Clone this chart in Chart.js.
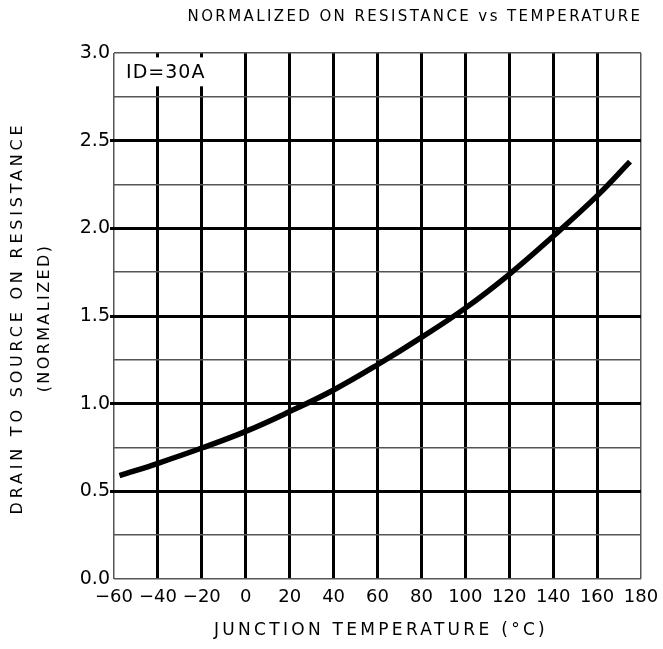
<!DOCTYPE html>
<html>
<head>
<meta charset="utf-8">
<script src="https://cdn.jsdelivr.net/npm/chart.js@4.4.1/dist/chart.umd.min.js"></script>
<style>
  html, body { margin: 0; padding: 0; background: #fff; }
  #wrap { width: 663px; height: 649px; }
</style>
</head>
<body>
<div id="wrap"><canvas id="chart"></canvas></div>
<script>
// junction temperature (°C) and normalized R_DS(on)
const temps = [-57.5, -40, -20, 0, 20, 40, 60, 80, 100, 120, 140, 160, 175];
const rdsNorm = [0.589, 0.66, 0.747, 0.842, 0.955, 1.078, 1.222, 1.378, 1.545, 1.738, 1.955, 2.185, 2.38];

const xTicks = [-60, -40, -20, 0, 20, 40, 60, 80, 100, 120, 140, 160, 180];
const yTicks = ['0.0', '0.5', '1.0', '1.5', '2.0', '2.5', '3.0'];

const chartTitle = 'NORMALIZED ON RESISTANCE vs TEMPERATURE';
const xTitle = 'JUNCTION TEMPERATURE (\u00B0C)';
const yTitle = ['DRAIN TO SOURCE ON RESISTANCE', '(NORMALIZED)'];
const noteText = 'ID=30A';

const FONT = '"DejaVu Sans", sans-serif';

const isMajor = (v) => Math.abs(v * 2 - Math.round(v * 2)) < 1e-6;

// titles and the Id note, drawn by hand so letter spacing can match
const textPlugin = {
    id: 'plainText',
    beforeDatasetsDraw(chart) {
        const { ctx, scales: { x, y } } = chart;
        // white box behind the note, covering the grid
        const l = x.getPixelForValue(-57.5), r = x.getPixelForValue(-15.5);
        const t = y.getPixelForValue(2.975), b = y.getPixelForValue(2.81);
        ctx.save();
        ctx.fillStyle = '#fff';
        ctx.fillRect(l, t, r - l, b - t);
        ctx.fillStyle = '#000';
        ctx.font = '19px ' + FONT;
        ctx.letterSpacing = '1px';
        ctx.textBaseline = 'middle';
        ctx.textAlign = 'left';
        ctx.fillText(noteText, x.getPixelForValue(-54.5), (t + b) / 2 + 1);
        ctx.restore();
    },
    afterDraw(chart) {
        const { ctx, chartArea } = chart;
        ctx.save();
        ctx.fillStyle = '#000';
        ctx.textAlign = 'center';
        ctx.textBaseline = 'middle';

        ctx.font = '15px ' + FONT;
        ctx.letterSpacing = '2.4px';
        ctx.fillText(chartTitle, 415, 17);

        ctx.font = '17px ' + FONT;
        ctx.letterSpacing = '3.3px';
        ctx.fillText(xTitle, 381, 631);

        const cy = (chartArea.top + chartArea.bottom) / 2 + 2;
        ctx.translate(18, cy);
        ctx.rotate(-Math.PI / 2);
        ctx.font = '16px ' + FONT;
        ctx.letterSpacing = '3.8px';
        ctx.fillText(yTitle[0], 0, 0);
        ctx.letterSpacing = '2.4px';
        ctx.fillText(yTitle[1], 0, 27);
        ctx.restore();
    },
};

new Chart(document.getElementById('chart'), {
    type: 'line',
    data: {
        datasets: [{
            data: temps.map((t, i) => ({ x: t, y: rdsNorm[i] })),
            borderColor: '#000',
            borderWidth: 5.5,
            pointRadius: 0,
            tension: 0.4,
            fill: false,
        }],
    },
    options: {
        responsive: true,
        maintainAspectRatio: false,
        animation: false,
        layout: { padding: { top: 53, right: 22, left: 0, bottom: 0 } },
        plugins: {
            legend: { display: false },
            tooltip: { enabled: false },
        },
        scales: {
            x: {
                type: 'linear',
                min: -60,
                max: 180,
                afterBuildTicks: (scale) => {
                    scale.ticks = xTicks.map((v) => ({ value: v }));
                },
                afterFit: (scale) => {
                    scale.height = 70;
                    scale.paddingLeft = 0;
                    scale.paddingRight = 0;
                },
                grid: {
                    drawTicks: false,
                    color: (c) => (c.index === 0 || c.index === xTicks.length - 1 ? '#555' : '#000'),
                    lineWidth: (c) => (c.index === 0 || c.index === xTicks.length - 1 ? 1.5 : 3),
                },
                border: { display: false },
                ticks: {
                    padding: 8,
                    color: '#000',
                    font: { family: FONT, size: 18 },
                    maxRotation: 0,
                    autoSkip: false,
                    callback: (v) => String(v).replace('-', '\u2212'),
                },
            },
            y: {
                type: 'linear',
                min: 0,
                max: 3,
                afterBuildTicks: (scale) => {
                    const t = [];
                    for (let i = 0; i <= 12; i++) t.push({ value: i * 0.25 });
                    scale.ticks = t;
                },
                afterFit: (scale) => {
                    scale.width = 114;
                    scale.paddingTop = 0;
                    scale.paddingBottom = 0;
                },
                grid: {
                    tickLength: 4,
                    color: (c) => {
                        const v = c.tick.value;
                        return isMajor(v) && v > 0 && v < 3 ? '#000' : '#555';
                    },
                    lineWidth: (c) => {
                        const v = c.tick.value;
                        return isMajor(v) && v > 0 && v < 3 ? 3 : 1.5;
                    },
                    tickColor: (c) => {
                        const v = c.tick.value;
                        return isMajor(v) && v > 0 && v < 3 ? '#000' : 'rgba(0,0,0,0)';
                    },
                },
                border: { display: false },
                ticks: {
                    padding: 0,
                    color: '#000',
                    font: { family: FONT, size: 19 },
                    autoSkip: false,
                    callback: (v) => (isMajor(v) ? yTicks[Math.round(v * 2)] : ''),
                },
            },
        },
    },
    plugins: [textPlugin],
});
</script>
</body>
</html>
